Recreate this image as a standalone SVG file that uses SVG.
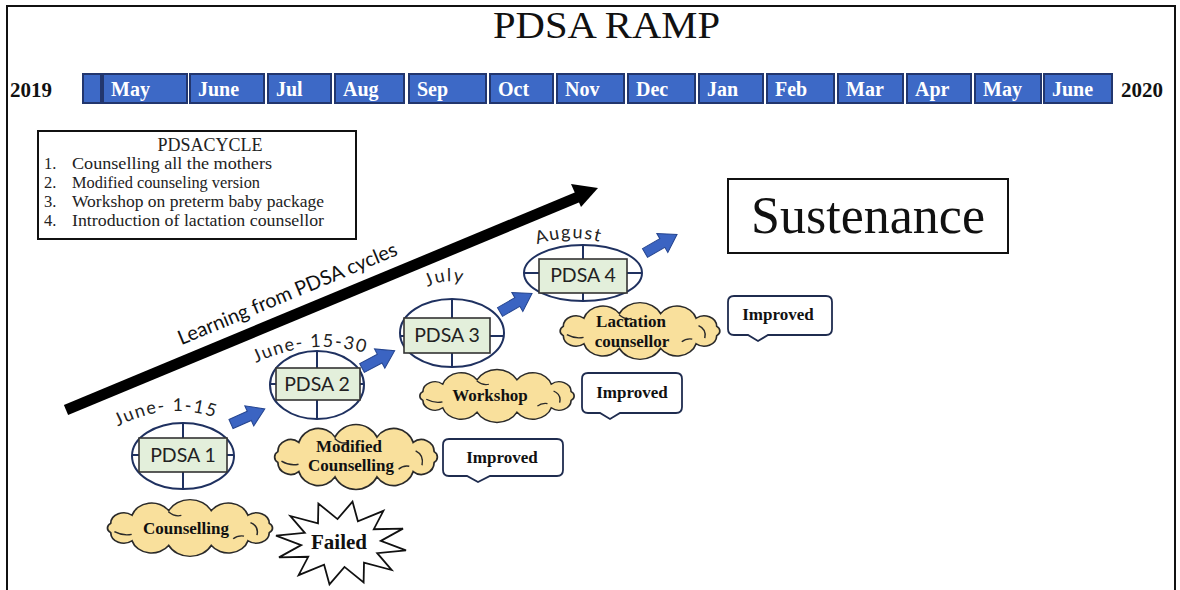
<svg xmlns="http://www.w3.org/2000/svg" xmlns:xlink="http://www.w3.org/1999/xlink" width="1180" height="590" viewBox="0 0 1180 590">
<style>
.serif{font-family:"Liberation Serif","Times New Roman",serif;}
.sans{font-family:Lato,"Open Sans","Liberation Sans",sans-serif;}
.month rect{fill:#3d69c6;stroke:#22366e;stroke-width:2;}
.month text{font-family:"Liberation Serif","Times New Roman",serif;font-weight:bold;font-size:20px;fill:#fff;}
.year{font-family:"Liberation Serif","Times New Roman",serif;font-weight:bold;font-size:21px;fill:#111;}
.legend text{font-family:"Liberation Serif","Times New Roman",serif;font-size:16.5px;fill:#222;}
.legend text.ltitle{font-size:18px;}
.pdsa ellipse{fill:#fff;stroke:#1f3160;stroke-width:2;}
.pdsa line{stroke:#1f3160;stroke-width:2;}
.pdsa rect{fill:#e3efdb;stroke:#333;stroke-width:1.6;}
.pdsa text{font-family:Lato,"Open Sans","Liberation Sans",sans-serif;font-size:19.5px;fill:#222;text-anchor:middle;}
.pdsa text.date{font-size:18px;letter-spacing:1.5px;text-anchor:middle;}
.cloud{fill:#f9e09c;stroke:#2a2a2a;stroke-width:1.6;}
.cloudin{fill:none;stroke:#2a2a2a;stroke-width:1.4;}
.lbl{font-family:"Liberation Serif","Times New Roman",serif;font-weight:bold;font-size:17px;fill:#111;text-anchor:middle;}
.lbl.big{font-size:21px;}
.callout{fill:#fff;stroke:#1f2c4f;stroke-width:1.8;}
.barrow{fill:#3b64c2;stroke:#24448f;stroke-width:1;}
</style>
<defs>
<path id="cloudShape" d="M73.4,5.2 A12,12 0 0 1 53.7,14.1 A19,19 0 0 1 19.7,19.3 A22,22 0 0 1 -19.7,19.3 A19,19 0 0 1 -53.7,14.1 A12,12 0 0 1 -73.4,5.2 A6,6 0 0 1 -73.4,-5.2 A12,12 0 0 1 -53.7,-14.1 A19,19 0 0 1 -19.7,-19.3 A22,22 0 0 1 19.7,-19.3 A19,19 0 0 1 53.7,-14.1 A12,12 0 0 1 73.4,-5.2 A6,6 0 0 1 73.4,5.2 Z"/>
<path id="cloudInner" d="M-70,4 Q-62,9 -54,7 M56,-6 Q64,-2 62,8 M-20,-18 Q-14,-12 -8,-14 M40,12 Q44,8 50,9"/>
<path id="blockArrow" d="M0,-5 L20,-5 L20,-11 L37,0 L20,11 L20,5 L0,5 Z"/>
<path id="arcJ1" d="M108,432 Q168,396 226,422"/>
<path id="arcJ2" d="M254,364 Q310,336 368,354"/>
<path id="arcJul" d="M420,292 Q445,274 472,286"/>
<path id="arcAug" d="M528,248 Q568,230 610,245"/>
</defs>

<g id="frame">
<path d="M7,590 V6 H1175 V590" fill="none" stroke="#111" stroke-width="2"/>
</g>

<g id="title">
<text class="serif" x="493" y="38" font-size="38" textLength="227" lengthAdjust="spacingAndGlyphs" fill="#111">PDSA  RAMP</text>
</g>

<g id="timeline">
<text class="year" x="10" y="97">2019</text>
<text class="year" x="1121" y="97">2020</text>
<g class="month">
<rect x="83" y="74" width="18" height="29"/>
<rect x="103" y="74" width="84" height="29"/><text x="111" y="96">May</text>
<rect x="190" y="74" width="74" height="29"/><text x="198" y="96">June</text>
<rect x="268" y="74" width="63" height="29"/><text x="276" y="96">Jul</text>
<rect x="335" y="74" width="69" height="29"/><text x="343" y="96">Aug</text>
<rect x="409" y="74" width="77" height="29"/><text x="417" y="96">Sep</text>
<rect x="490" y="74" width="63" height="29"/><text x="498" y="96">Oct</text>
<rect x="557" y="74" width="67" height="29"/><text x="565" y="96">Nov</text>
<rect x="628" y="74" width="67" height="29"/><text x="636" y="96">Dec</text>
<rect x="699" y="74" width="64" height="29"/><text x="707" y="96">Jan</text>
<rect x="767" y="74" width="67" height="29"/><text x="775" y="96">Feb</text>
<rect x="838" y="74" width="65" height="29"/><text x="846" y="96">Mar</text>
<rect x="907" y="74" width="64" height="29"/><text x="915" y="96">Apr</text>
<rect x="975" y="74" width="66" height="29"/><text x="983" y="96">May</text>
<rect x="1044" y="74" width="68" height="29"/><text x="1052" y="96">June</text>
</g>
</g>

<g id="legend" class="legend">
<rect x="38" y="131" width="318" height="108" fill="#fff" stroke="#111" stroke-width="2"/>
<text class="ltitle" x="210" y="151" text-anchor="middle">PDSACYCLE</text>
<text x="44" y="169">1.</text><text x="72" y="169" textLength="200" lengthAdjust="spacingAndGlyphs">Counselling all the mothers</text>
<text x="44" y="188">2.</text><text x="72" y="188" textLength="188" lengthAdjust="spacingAndGlyphs">Modified counseling version</text>
<text x="44" y="207">3.</text><text x="72" y="207" textLength="252" lengthAdjust="spacingAndGlyphs">Workshop on preterm baby package</text>
<text x="44" y="226">4.</text><text x="72" y="226" textLength="252" lengthAdjust="spacingAndGlyphs">Introduction of lactation counsellor</text>
</g>

<g id="sustenance">
<rect x="728" y="179" width="280" height="74" fill="#fff" stroke="#111" stroke-width="2"/>
<text class="serif" x="868" y="233" font-size="52" text-anchor="middle" fill="#111">Sustenance</text>
</g>

<g id="connectors">
<line x1="66" y1="410" x2="578" y2="197" stroke="#000" stroke-width="11"/>
<polygon points="598,188 581,207 571,184" fill="#000"/>
<use href="#blockArrow" class="barrow" transform="translate(231,424) rotate(-24)"/>
<use href="#blockArrow" class="barrow" transform="translate(362,368) rotate(-28)"/>
<use href="#blockArrow" class="barrow" transform="translate(500,312) rotate(-30)"/>
<use href="#blockArrow" class="barrow" transform="translate(645,253) rotate(-30)"/>
</g>

<g id="learning">
<text class="sans" x="290" y="300" font-size="20" fill="#111" text-anchor="middle" transform="rotate(-22.6 290 300)">Learning from PDSA cycles</text>
</g>

<g id="pdsa1" class="pdsa">
<ellipse cx="183" cy="456" rx="51" ry="33"/>
<line x1="183" y1="423" x2="183" y2="489"/>
<line x1="132" y1="455" x2="234" y2="455"/>
<rect x="139" y="438" width="88" height="34"/>
<text x="183" y="462">PDSA 1</text>
<text class="date"><textPath href="#arcJ1" startOffset="50%">June- 1-15</textPath></text>
</g>

<g id="pdsa2" class="pdsa">
<ellipse cx="317" cy="385" rx="47" ry="34"/>
<line x1="317" y1="351" x2="317" y2="419"/>
<line x1="270" y1="384" x2="364" y2="384"/>
<rect x="276" y="368" width="84" height="32"/>
<text x="317" y="391">PDSA 2</text>
<text class="date"><textPath href="#arcJ2" startOffset="50%">June- 15-30</textPath></text>
</g>

<g id="pdsa3" class="pdsa">
<ellipse cx="452" cy="333" rx="52" ry="34"/>
<line x1="452" y1="299" x2="452" y2="367"/>
<line x1="400" y1="336" x2="504" y2="336"/>
<rect x="404" y="318" width="86" height="35"/>
<text x="447" y="342">PDSA 3</text>
<text class="date"><textPath href="#arcJul" startOffset="50%">July</textPath></text>
</g>

<g id="pdsa4" class="pdsa">
<ellipse cx="583" cy="273" rx="59" ry="28"/>
<line x1="583" y1="245" x2="583" y2="301"/>
<line x1="524" y1="273" x2="642" y2="273"/>
<rect x="539" y="259" width="88" height="34"/>
<text x="583" y="282">PDSA 4</text>
<text class="date"><textPath href="#arcAug" startOffset="50%">August</textPath></text>
</g>

<g id="cloud-counselling">
<use href="#cloudShape" class="cloud" transform="translate(190,528) scale(1.08,0.9)"/>
<use href="#cloudInner" class="cloudin" transform="translate(190,528) scale(1.08,0.9)"/>
<text class="lbl" x="186" y="534">Counselling</text>
</g>

<g id="failed">
<path d="M406,550.3 L377.2,553.2 L391.6,570 L364,562.7 L363.6,582.5 L344.5,566.9 L329.5,584.4 L324.1,564.7 L298.6,575.2 L308.2,556.8 L279,557.4 L301.2,545.1 L276,535.7 L304.8,532.8 L290.4,516 L318,523.3 L318.4,503.5 L337.5,519.1 L352.5,501.6 L357.9,521.3 L383.4,510.8 L373.8,529.2 L403,528.6 L380.8,540.9 Z" fill="#fff" stroke="#111" stroke-width="1.8"/>
<text class="lbl big" x="339" y="549">Failed</text>
</g>

<g id="cloud-modified">
<use href="#cloudShape" class="cloud" transform="translate(356,457) scale(1.065,1.03)"/>
<use href="#cloudInner" class="cloudin" transform="translate(356,457) scale(1.065,1.03)"/>
<text class="lbl" x="349" y="452">Modified</text>
<text class="lbl" x="351" y="471">Counselling</text>
</g>

<g id="improved1">
<path class="callout" d="M449,439 H557 Q563,439 563,445 V470 Q563,476 557,476 H490 L478,482 L467,476 H449 Q443,476 443,470 V445 Q443,439 449,439 Z"/>
<text class="lbl" x="502" y="463">Improved</text>
</g>

<g id="cloud-workshop">
<use href="#cloudShape" class="cloud" transform="translate(497,396) scale(1.01,0.84)"/>
<use href="#cloudInner" class="cloudin" transform="translate(497,396) scale(1.01,0.84)"/>
<text class="lbl" x="490" y="401">Workshop</text>
</g>

<g id="improved2">
<path class="callout" d="M588,373 H676 Q682,373 682,379 V407 Q682,413 676,413 H620 L610,419 L600,413 H588 Q582,413 582,407 V379 Q582,373 588,373 Z"/>
<text class="lbl" x="632" y="398">Improved</text>
</g>

<g id="cloud-lactation">
<use href="#cloudShape" class="cloud" transform="translate(640,331) scale(1.045,0.9)"/>
<use href="#cloudInner" class="cloudin" transform="translate(640,331) scale(1.045,0.9)"/>
<text class="lbl" x="631" y="327">Lactation</text>
<text class="lbl" x="632" y="347">counsellor</text>
</g>

<g id="improved3">
<path class="callout" d="M734,296 H826 Q832,296 832,302 V329 Q832,335 826,335 H768 L758,341 L748,335 H734 Q728,335 728,329 V302 Q728,296 734,296 Z"/>
<text class="lbl" x="778" y="320">Improved</text>
</g>
</svg>
